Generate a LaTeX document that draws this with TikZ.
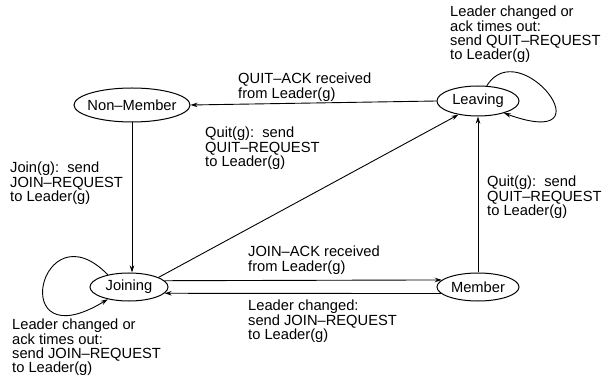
\documentclass[tikz,border=0pt]{standalone}
\usepackage{fontspec}
\setmainfont{Liberation Sans}
\usetikzlibrary{shapes.geometric,arrows.meta}
\newcommand\lblfont{\fontsize{14.7}{14.2}\selectfont}
\tikzset{
  state/.style={draw, ellipse, line width=1pt, inner sep=0pt, font=\lblfont},
  tr/.style={draw, line width=0.9pt, -{Stealth[length=7pt,width=4.5pt]}},
  lbl/.style={anchor=north west, align=left, inner sep=0pt, font=\lblfont},
}
\begin{document}
\begin{tikzpicture}[x=1pt, y=-1pt]
  \fill[white] (0,0) rectangle (610,379);
  \useasboundingbox (0,0) rectangle (610,379);

  % states
  \node[state, minimum width=116, minimum height=34] (nonmember) at (132,105) {\makebox[0pt]{Non–Member}};
  \node[state, minimum width=82, minimum height=30] (leaving) at (478,101) {\makebox[0pt]{Leaving}};
  \node[state, minimum width=78, minimum height=28] (joining) at (129,287) {\makebox[0pt]{Joining}};
  \node[state, minimum width=82, minimum height=28] (member) at (478,287) {\makebox[0pt]{Member}};

  % transitions
  \draw[tr] (nonmember.south) -- (nonmember.south |- joining.north);
  \draw[tr] (leaving.west) -- (nonmember.east);
  \draw[tr] (joining.18) -- (leaving.215);
  \draw[tr] (member.north) -- (member.north |- leaving.south);
  \draw[tr] (joining.10.9) -- (member.169.6);
  \draw[tr] (member.190.4) -- (joining.-10.9);
  \draw[tr] (leaving.60) .. controls (520,32) and (612,152) .. (leaving.-25);
  \draw[tr] (joining.150) .. controls (40,205) and (5,362) .. (joining.210);

  % transition labels
  \node[lbl] (lq) at (450,6) {Leader changed or\\ack times out:\\send QUIT–REQUEST\\to Leader(g)};
  \node[lbl] (lqa) at (238,73) {QUIT–ACK received\\from Leader(g)};
  \node[lbl] (lj) at (10,162) {Join(g):~~send\\JOIN–REQUEST\\to Leader(g)};
  \node[lbl] (lqm) at (205,127) {Quit(g):~~send\\QUIT–REQUEST\\to Leader(g)};
  \node[lbl] (lqr) at (487,176) {Quit(g):~~send\\QUIT–REQUEST\\to Leader(g)};
  \node[lbl] (lja) at (248,246) {JOIN–ACK received\\from Leader(g)};
  \node[lbl] (llc) at (248,300) {Leader changed:\\send JOIN–REQUEST\\to Leader(g)};
  \node[lbl] (llj) at (12,319) {Leader changed or\\ack times out:\\send JOIN–REQUEST\\to Leader(g)};
\end{tikzpicture}
\end{document}
